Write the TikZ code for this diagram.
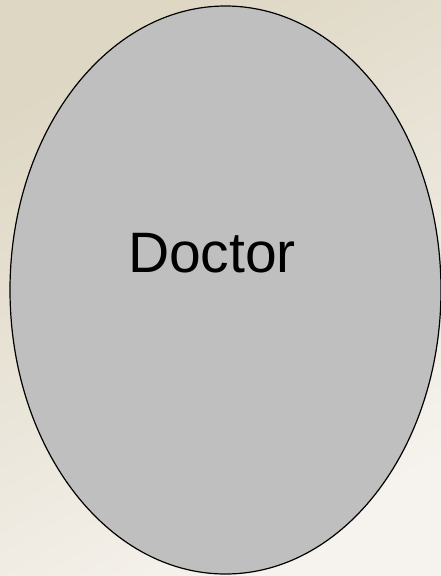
\documentclass[tikz,border=0pt]{standalone}
\usepackage{fontspec}
\setmainfont{Liberation Sans}
\usetikzlibrary{shapes.geometric}
\definecolor{bgA}{RGB}{222,215,196}
\definecolor{bgB}{RGB}{246,243,238}
\definecolor{ellfill}{RGB}{191,191,191}
\begin{document}
\begin{tikzpicture}[x=1pt,y=-1pt,
  blob/.style={ellipse, draw=black, line width=1.2pt, fill=ellfill, inner sep=0pt},
  lbl/.style={font=\fontsize{57}{62}\selectfont, inner sep=0pt, anchor=base}]
\shade[top color=bgA, bottom color=bgB, shading angle=30] (0,0) rectangle (441,576);
\useasboundingbox (0,0) rectangle (441,576);
\node[blob, minimum width=431pt, minimum height=568pt] (doc) at (225.5,290) {};
\node[lbl] (t) at (212,272) {Doctor};
\end{tikzpicture}
\end{document}
